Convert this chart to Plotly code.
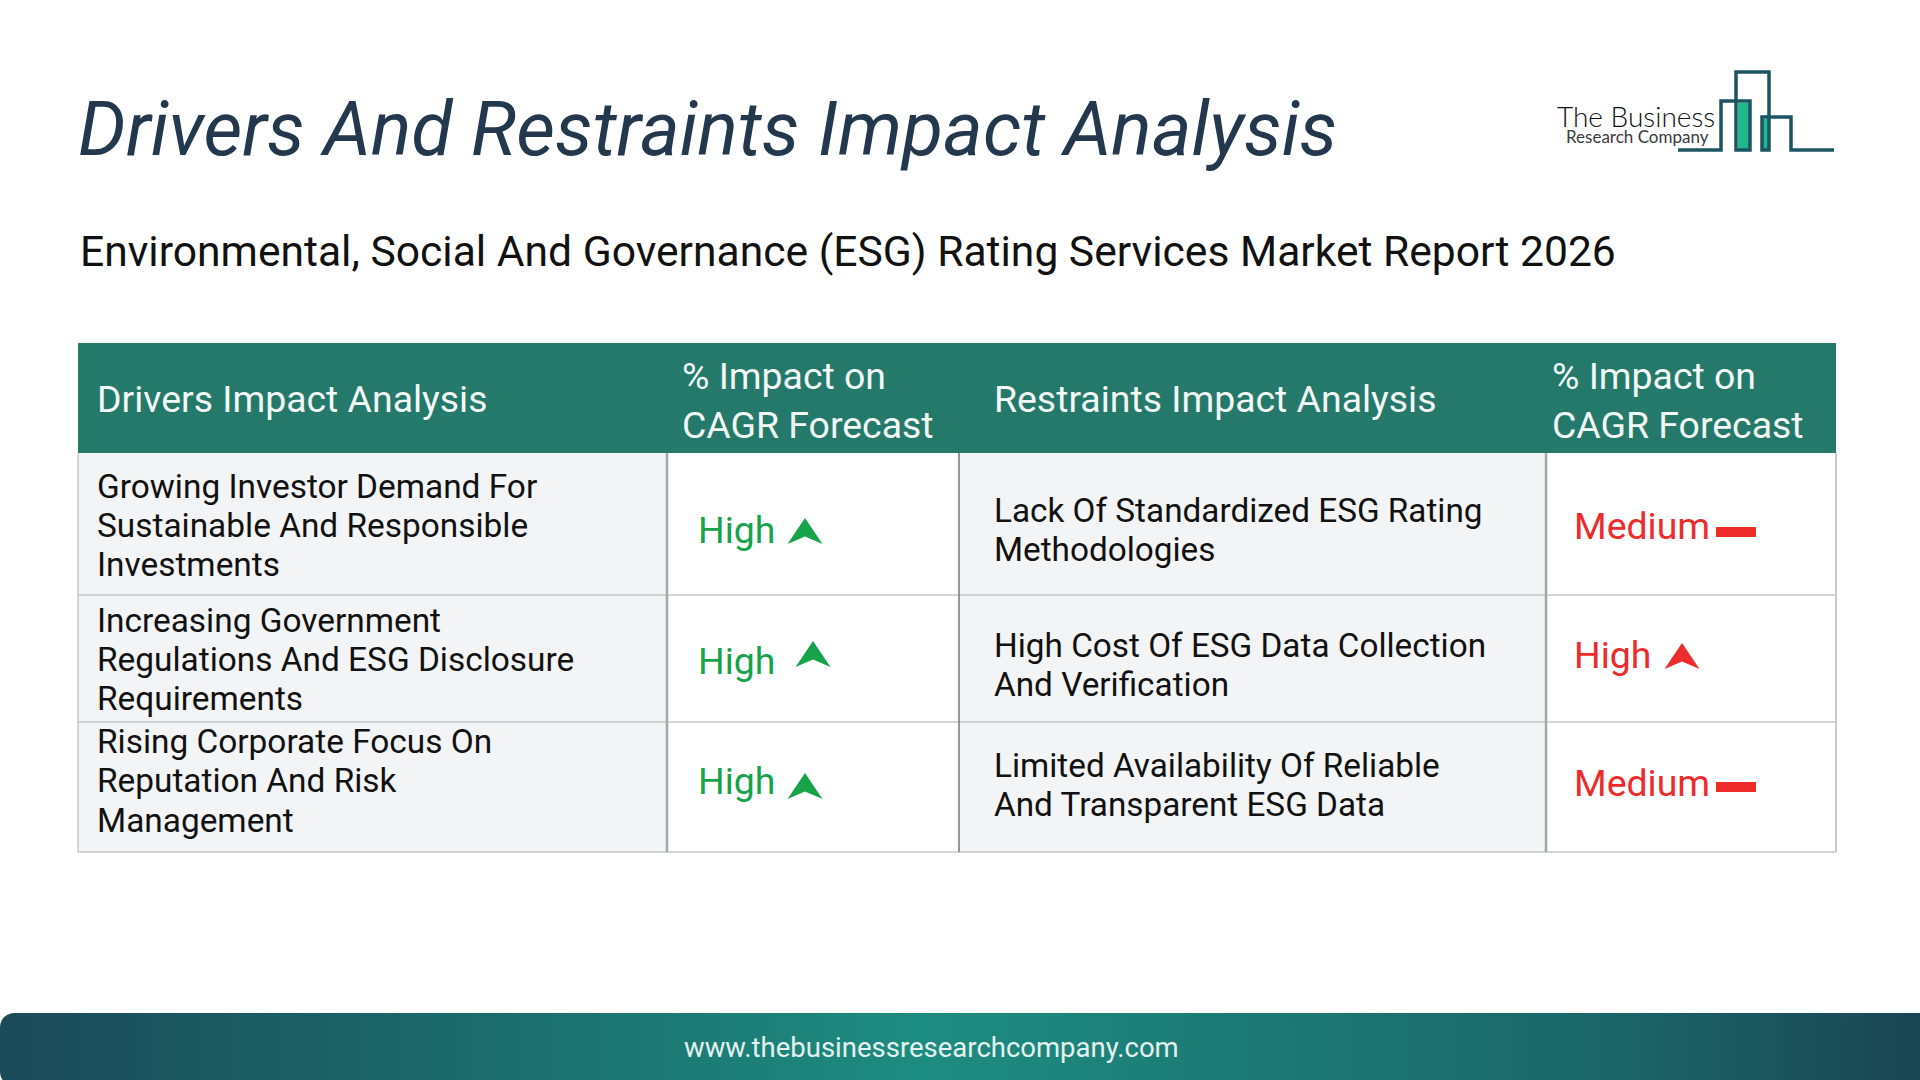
import math
import plotly.graph_objects as go

# Text content
title = "Drivers And Restraints Impact Analysis"
subtitle = "Environmental, Social And Governance (ESG) Rating Services Market Report 2026"
website = "www.thebusinessresearchcompany.com"
headers = ["Drivers Impact Analysis", "% Impact on<br>CAGR Forecast",
           "Restraints Impact Analysis", "% Impact on<br>CAGR Forecast"]
drivers = [["Growing Investor Demand For", "Sustainable And Responsible", "Investments"],
           ["Increasing Government", "Regulations And ESG Disclosure", "Requirements"],
           ["Rising Corporate Focus On", "Reputation And Risk", "Management"]]
driver_impact = ["High", "High", "High"]
restraints = [["Lack Of Standardized ESG Rating", "Methodologies"],
              ["High Cost Of ESG Data Collection", "And Verification"],
              ["Limited Availability Of Reliable", "And Transparent ESG Data"]]
restraint_impact = ["Medium", "High", "Medium"]

# Page layout in pixels
col_x = [78, 667, 959, 1546, 1836]
row_y = [343, 453, 595, 722, 852]
driver_y = [(486, 525, 564), (620, 659, 698), (741, 780, 820)]
restraint_y = [(510, 549), (645, 684), (765, 804)]
driver_impact_y = [530, 661, 781]
restraint_impact_y = [526, 655, 783]
driver_arrows = [(805, 518), (813, 641), (805, 773)]
restraint_marks = [(1736, 532), (1682, 643), (1736, 787)]

GREEN = "#16a34a"
RED = "#ee2b2b"
TEAL = "#25796a"
GRID = "#c6c7ca"
FONT = "Roboto"

fig = go.Figure()
shapes = []
annotations = []


def rect(x0, y0, x1, y1, fill, line=None, width=0):
    shapes.append(dict(type="rect", x0=x0, y0=y0, x1=x1, y1=y1, fillcolor=fill,
                       line=dict(color=line or fill, width=width), layer="below"))


def vline(x, y0, y1, color, width):
    shapes.append(dict(type="line", x0=x, x1=x, y0=y0, y1=y1, line=dict(color=color, width=width)))


def hline(y, x0, x1, color=GRID, width=1.5):
    shapes.append(dict(type="line", x0=x0, x1=x1, y0=y, y1=y, line=dict(color=color, width=width)))


def label(x, y, text, size, color="#111111", anchor="left", **font):
    annotations.append(dict(x=x, y=y, text=text, showarrow=False, xanchor=anchor, yanchor="middle",
                            align="left", font=dict(family=FONT, size=size, color=color, **font)))


def arrow(cx, tip, color):
    # notched arrow head
    path = f"M {cx} {tip} L {cx + 17.5} {tip + 26} L {cx} {tip + 18.5} L {cx - 17.5} {tip + 26} Z"
    shapes.append(dict(type="path", path=path, fillcolor=color, line=dict(width=0)))


# Footer band, rounded on the left end only; its bottom runs off the page
radius = 14
band_bottom = 1086
corners = [(radius, 1013 + radius, 180, 270), (1920, 1013, 270, 270),
           (1920, band_bottom, 90, 90), (radius, band_bottom - radius, 90, 180)]
fx, fy = [], []
for cx, cy, a0, a1 in corners:
    r = radius if cx == radius else 0
    for a in range(a0, a1 + 1, 15):
        fx.append(cx + r * math.cos(math.radians(a)))
        fy.append(cy + r * math.sin(math.radians(a)))
fig.add_trace(go.Scatter(x=fx + fx[:1], y=fy + fy[:1], mode="lines", fill="toself", line=dict(width=0),
                         hoverinfo="skip", showlegend=False,
                         fillgradient=dict(type="horizontal",
                                           colorscale=[[0, "#1b4a58"], [0.15, "#1b5e64"], [0.48, "#1d8c80"],
                                                       [0.84, "#1b6668"], [1, "#1a4552"]])))
label(931, 1047, website, 27.5, "#e4f1ef", anchor="center")

# Title block
label(75.5, 129, title, 75.4, "#23384d", style="italic")
label(77.5, 251, subtitle, 42.6, "#111111")

# Table backgrounds
rect(col_x[0], row_y[1], col_x[1], row_y[4], "#f3f4f6")
rect(col_x[2], row_y[1], col_x[3], row_y[4], "#f3f4f6")
rect(col_x[0], row_y[0], col_x[4], row_y[1], TEAL)

# Table lines
for y in row_y[2:]:
    hline(y, col_x[0], col_x[4])
vline(col_x[0], row_y[1], row_y[4], GRID, 1.5)
vline(col_x[1], row_y[1], row_y[4], "#a5a6a9", 2.5)
vline(col_x[2], row_y[1], row_y[4], "#77787a", 1.5)
vline(col_x[3], row_y[1], row_y[4], "#a5a6a9", 2.5)
vline(col_x[4], row_y[1], row_y[4], GRID, 2)

# Header row
label(94.5, 399, headers[0], 37.4, "#f2f8f6")
label(991.5, 399, headers[2], 37.4, "#f2f8f6")
for x, text in [(679.5, headers[1]), (1549.5, headers[3])]:
    first, second = text.split("<br>")
    label(x, 376, first, 37.4, "#f2f8f6")
    label(x, 425, second, 37.4, "#f2f8f6")

# Driver rows
for lines, ys, impact, iy, (ax, ay) in zip(drivers, driver_y, driver_impact, driver_impact_y, driver_arrows):
    for text, y in zip(lines, ys):
        label(94.5, y, text, 33.4)
    label(695.5, iy, impact, 37.4, GREEN)
    arrow(ax, ay, GREEN)

# Restraint rows
for lines, ys, impact, iy, (mx, my) in zip(restraints, restraint_y, restraint_impact, restraint_impact_y, restraint_marks):
    for text, y in zip(lines, ys):
        label(991.5, y, text, 33.3)
    label(1571.5, iy, impact, 37.4, RED)
    if impact == "High":
        arrow(mx, my, RED)
    else:
        rect(mx - 20, my - 5, mx + 20, my + 5, RED)

# Logo
LOGO = "#1c5562"
rect(1738, 103, 1750, 150, "#1fb98c")
rect(1762, 119, 1769, 150, "#1fb98c")
logo_paths = ["M 1678 150 L 1721 150 L 1721 101 L 1750 101 L 1750 150 L 1736 150 L 1736 72 L 1769 72 L 1769 150 L 1762 150 L 1762 117 L 1791 117 L 1791 150 L 1834 150"]
for p in logo_paths:
    shapes.append(dict(type="path", path=p, line=dict(color=LOGO, width=3.5)))
annotations.append(dict(x=1636, y=116, text="The Business", showarrow=False, xanchor="center", yanchor="middle",
                        font=dict(family="Lato", size=28, color="#111111", weight=300)))
annotations.append(dict(x=1637, y=136, text="Research Company", showarrow=False, xanchor="center", yanchor="middle",
                        font=dict(family="Lato", size=17, color="#3a3a3a", weight=400)))

fig.update_layout(
    width=1920, height=1080, margin=dict(l=0, r=0, t=0, b=0),
    paper_bgcolor="white", plot_bgcolor="white", showlegend=False,
    xaxis=dict(range=[0, 1920], visible=False, fixedrange=True),
    yaxis=dict(range=[1080, 0], visible=False, fixedrange=True),
    shapes=shapes, annotations=annotations,
)

fig.write_html("out.html", post_script="document.body.style.margin='0';document.body.style.overflow='hidden';",
               config=dict(displayModeBar=False))
